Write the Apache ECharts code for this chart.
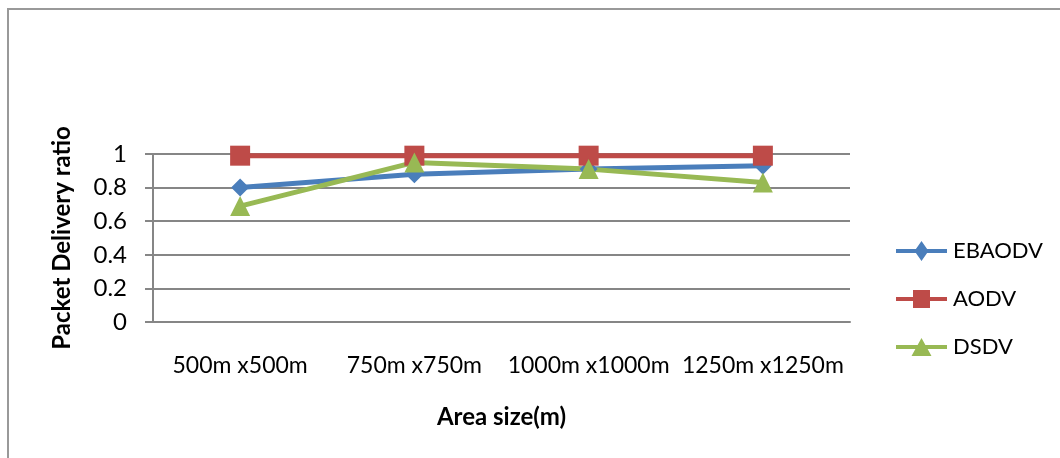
<!DOCTYPE html>
<html>
<head>
<meta charset="utf-8">
<script src="https://cdn.jsdelivr.net/npm/echarts@6/dist/echarts.min.js"></script>
<style>
  html, body { margin: 0; padding: 0; background: #fff; overflow: hidden; }
  #frame { position: absolute; left: 7px; top: 8px; width: 1070px; height: 470px;
           border-left: 2px solid #999; border-top: 2px solid #999; }
  #chart { position: absolute; left: 0; top: 0; width: 1060px; height: 458px; }
</style>
</head>
<body>
<div id="frame"></div>
<div id="chart"></div>
<script>
// Packet delivery ratio by simulation area
const categories = ['500m x500m', '750m x750m', '1000m x1000m', '1250m x1250m'];
const ebaodv = [0.80, 0.88, 0.91, 0.93];
const aodv = [0.99, 0.99, 0.99, 0.99];
const dsdv = [0.69, 0.95, 0.91, 0.83];
const yTicks = [0, 0.2, 0.4, 0.6, 0.8, 1];

const font = 'Lato, "Open Sans", sans-serif';
const chart = echarts.init(document.getElementById('chart'), null, { renderer: 'canvas' });

// Legend keys: a thick line segment with the series marker in the middle (53 x 20 box)
const bar = 'M1,8 L52,8 L52,12 L1,12 Z ';
const legendIcons = {
  EBAODV: 'path://M0,10 L0,10 ' + bar + 'M26.5,0 L33.5,10 L26.5,20 L19.5,10 Z M53,10 L53,10',
  AODV: 'path://M0,10 L0,10 ' + bar + 'M18,1 L35,1 L35,19 L18,19 Z M26.5,0 L26.5,0 M26.5,20 L26.5,20 M53,10 L53,10',
  DSDV: 'path://M0,10 L0,10 ' + bar + 'M26.5,1 L36.5,19 L16.5,19 Z M26.5,0 L26.5,0 M26.5,20 L26.5,20 M53,10 L53,10'
};

function line(name, data, color, symbol, size) {
  return {
    name, type: 'line', data,
    symbol, symbolSize: size,
    lineStyle: { color, width: 5 },
    itemStyle: { color },
    z: 3
  };
}

chart.setOption({
  animation: false,
  grid: { left: 153, right: 210, top: 154, bottom: 136 },
  xAxis: {
    type: 'category',
    data: categories,
    boundaryGap: true,
    name: 'Area size(m)',
    nameLocation: 'middle',
    nameGap: 83,
    nameTextStyle: { fontFamily: font, fontSize: 24, fontWeight: 'bold', color: '#000' },
    axisLine: { lineStyle: { color: '#868686', width: 2 } },
    axisTick: { show: false },
    axisLabel: { fontFamily: font, fontSize: 23, color: '#000', margin: 32, interval: 0 }
  },
  yAxis: {
    type: 'value',
    min: yTicks[0], max: yTicks[yTicks.length - 1], interval: 0.2,
    name: 'Packet Delivery ratio',
    nameLocation: 'middle',
    nameGap: 79,
    nameTextStyle: { fontFamily: font, fontSize: 24, fontWeight: 'bold', color: '#000' },
    axisLine: { show: true, lineStyle: { color: '#868686', width: 2 } },
    axisTick: { show: true, length: 8, lineStyle: { color: '#868686', width: 2 } },
    axisLabel: { fontFamily: font, fontSize: 24, color: '#000', margin: 26,
                 formatter: v => String(Math.round(v * 10) / 10) },
    splitLine: { lineStyle: { color: '#868686', width: 2 } }
  },
  legend: {
    orient: 'vertical',
    left: 890, top: 235,
    itemGap: 26,
    itemWidth: 53, itemHeight: 20,
    textStyle: { fontFamily: font, fontSize: 22, color: '#000' },
    data: ['EBAODV', 'AODV', 'DSDV'].map(n => ({ name: n, icon: legendIcons[n] }))
  },
  series: [
    line('EBAODV', ebaodv, '#4A7EBB', 'diamond', 18),
    line('AODV', aodv, '#BE4B48', 'rect', 20),
    line('DSDV', dsdv, '#98B954', 'triangle', 20)
  ]
});
</script>
</body>
</html>
